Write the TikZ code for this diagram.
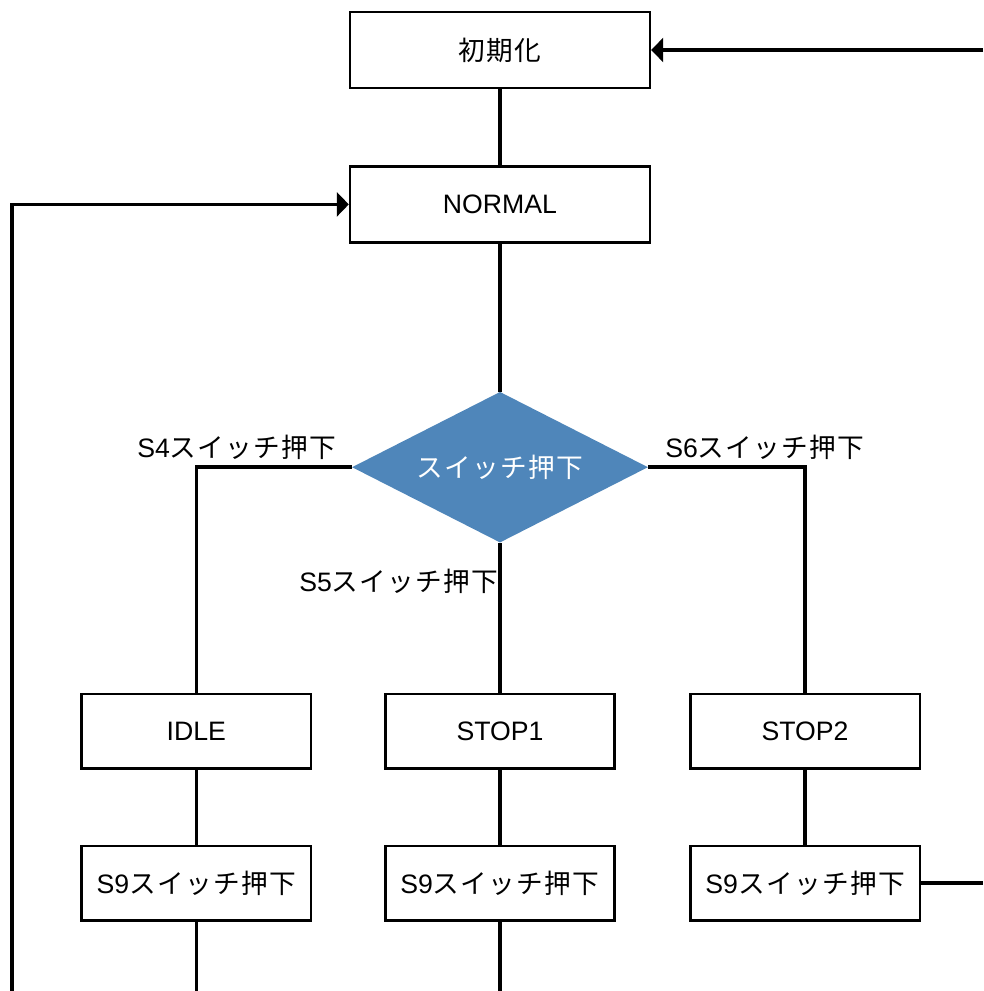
\documentclass[tikz,border=0pt]{standalone}
\usepackage{fontspec}
\setmainfont{Liberation Sans}
\newfontfamily\jpfont[LetterSpace=5]{Noto Sans CJK JP}
\newcommand{\jp}[1]{{\jpfont #1}}
\usetikzlibrary{positioning, shapes.geometric, arrows.meta}
\definecolor{swblue}{RGB}{79,134,186}

\begin{document}
\begin{tikzpicture}[x=0.75pt, y=-0.75pt, node distance = 57pt,
  txt/.style={font=\fontsize{20}{24}\selectfont},
  box/.style={draw, txt, line width=1.8pt, minimum width=225pt, minimum height=57pt, inner sep=0pt},
  smallbox/.style={box, minimum width=172pt, minimum height=56pt},
  decision/.style={diamond, aspect=2, txt, fill=swblue, text=white, minimum width=222pt, minimum height=113pt, inner sep=0pt},
  line/.style={line width=2.6pt},
  arr/.style={line, -{Triangle[length=9pt, width=18pt]}}]
\useasboundingbox (0,0) rectangle (983,991);
\node[box] (init) at (500,50) {\jp{初期化}};
\node[box, below=of init] (normal) {NORMAL};
\draw[line] (init) -- (normal);
\node[decision, below=111pt of normal] (sw) {\jp{スイッチ押下}};
\draw[line] (normal) -- (sw);
\node[smallbox, below=112.5pt of sw] (stopa) {STOP1};
\node[smallbox, left=54pt of stopa] (idle) {IDLE};
\node[smallbox, right=55pt of stopa] (stopb) {STOP2};
\draw[line] (sw.west) -| (idle);
\draw[line] (sw) -- (stopa);
\draw[line] (sw.east) -| (stopb);
\node[txt] (s4) at (237,447) {S4\jp{スイッチ押下}};
\node[txt] (s5) at (399,581) {S5\jp{スイッチ押下}};
\node[txt] (s6) at (765,447) {S6\jp{スイッチ押下}};
\node[smallbox, below=56pt of idle] (idlesw) {S9\jp{スイッチ押下}};
\node[smallbox, below=56pt of stopa] (stopasw) {S9\jp{スイッチ押下}};
\node[smallbox, below=56pt of stopb] (stopbsw) {S9\jp{スイッチ押下}};
\draw[line] (idle) -- (idlesw);
\draw[line] (stopa) -- (stopasw);
\draw[line] (stopb) -- (stopbsw);
% ends running off the picture
\coordinate (loopl) at (12,991);
\coordinate (topr) at (983,50);
\coordinate (loopr) at (stopbsw.east -| topr);
\coordinate (idleout) at (idlesw.south |- loopl);
\coordinate (stopaout) at (stopasw.south |- loopl);
\draw[line] (idlesw) -- (idleout);
\draw[line] (stopasw) -- (stopaout);
\draw[line] (stopbsw) -- (loopr);
\draw[arr] (loopl) |- (normal.west);
\draw[arr] (topr) -- (init.east);
\end{tikzpicture}
\end{document}
